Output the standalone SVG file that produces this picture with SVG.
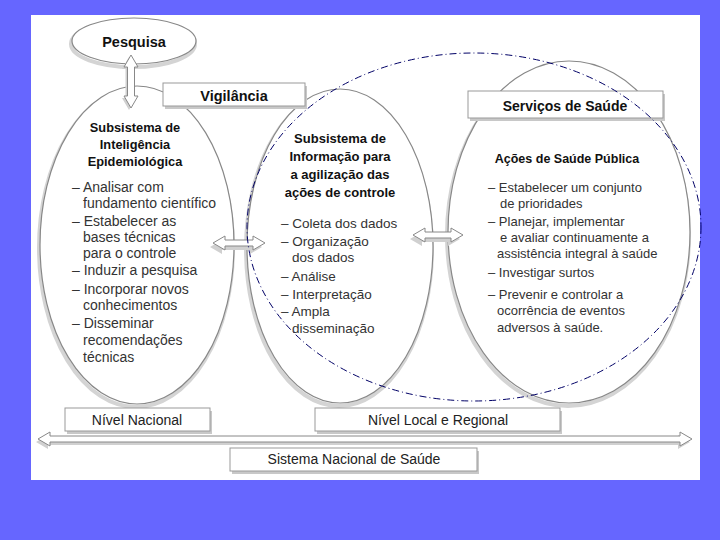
<svg xmlns="http://www.w3.org/2000/svg" width="720" height="540" viewBox="0 0 720 540">
<style>
.bold{font-family:"Liberation Sans",Arial,sans-serif;font-weight:bold;fill:#111;text-anchor:middle}
.reg{font-family:"Liberation Sans",Arial,sans-serif;fill:#333}
.ell{fill:#fff;stroke:#888;stroke-width:1.2}
.ellsh{fill:none;stroke:#d4d4d4;stroke-width:4}
.box{fill:#fff;stroke:#999;stroke-width:1}
.boxsh{fill:#c8c8c8}
.arr{fill:#fff;stroke:#888;stroke-width:1}
.arrsh{fill:#d0d0d0}
.lbl{font-family:"Liberation Sans",Arial,sans-serif;fill:#222;text-anchor:middle;font-size:14px}
</style>
<rect x="0" y="0" width="720" height="540" fill="#6666ff"/>
<rect x="31" y="15" width="669" height="465" fill="#fff"/>

<g id="pesquisa">
<ellipse cx="134" cy="42" rx="62" ry="23" class="ellsh" transform="translate(-1,2)"/>
<ellipse cx="134" cy="41" rx="62" ry="23" class="ell"/>
<text x="134" y="47" class="bold" font-size="14.5">Pesquisa</text>
</g>

<g id="subsistema-inteligencia">
<ellipse cx="137" cy="245" rx="97" ry="159" class="ellsh" transform="translate(-1,3)"/>
<ellipse cx="137" cy="245" rx="97" ry="159" class="ell"/>
<text x="135" y="132" class="bold" font-size="12.8">Subsistema de</text>
<text x="135" y="149" class="bold" font-size="12.8">Inteligência</text>
<text x="135" y="166" class="bold" font-size="12.8">Epidemiológica</text>
<g class="reg" font-size="14">
<text x="72" y="192">– Analisar com</text>
<text x="83" y="208">fundamento científico</text>
<text x="72" y="226">– Estabelecer as</text>
<text x="83" y="242">bases técnicas</text>
<text x="83" y="258">para o controle</text>
<text x="72" y="275">– Induzir a pesquisa</text>
<text x="72" y="294">– Incorporar novos</text>
<text x="83" y="310">conhecimentos</text>
<text x="72" y="328">– Disseminar</text>
<text x="83" y="345">recomendações</text>
<text x="83" y="362">técnicas</text>
</g>
</g>

<g id="subsistema-informacao">
<ellipse cx="340" cy="246" rx="93" ry="157" class="ellsh" transform="translate(-1,3)"/>
<ellipse cx="340" cy="246" rx="93" ry="157" class="ell"/>
<text x="340" y="143" class="bold" font-size="13">Subsistema de</text>
<text x="340" y="161" class="bold" font-size="13">Informação para</text>
<text x="340" y="179" class="bold" font-size="13">a agilização das</text>
<text x="340" y="197" class="bold" font-size="13">ações de controle</text>
<g class="reg" font-size="13.5">
<text x="281" y="228">– Coleta dos dados</text>
<text x="281" y="246">– Organização</text>
<text x="292" y="262">dos dados</text>
<text x="281" y="281">– Análise</text>
<text x="281" y="299">– Interpretação</text>
<text x="281" y="316">– Ampla</text>
<text x="292" y="333">disseminação</text>
</g>
</g>

<g id="acoes-saude-publica">
<ellipse cx="569" cy="232" rx="121" ry="171" class="ellsh" transform="translate(-1,3)"/>
<ellipse cx="569" cy="232" rx="121" ry="171" class="ell"/>
<text x="567" y="163" class="bold" font-size="12.5">Ações de Saúde Pública</text>
<g class="reg" font-size="13">
<text x="488" y="192">– Estabelecer um conjunto</text>
<text x="500" y="208">de prioridades</text>
<text x="488" y="226">– Planejar, implementar</text>
<text x="500" y="242">e avaliar continuamente a</text>
<text x="497" y="258">assistência integral à saúde</text>
<text x="488" y="277">– Investigar surtos</text>
<text x="488" y="299">– Prevenir e controlar a</text>
<text x="497" y="315">ocorrência de eventos</text>
<text x="497" y="332">adversos à saúde.</text>
</g>
</g>

<g id="vigilancia">
<rect x="165" y="86" width="142" height="23" class="boxsh"/>
<rect x="163" y="83" width="142" height="23" class="box"/>
<text x="234" y="101" class="bold" font-size="14.5">Vigilância</text>
</g>

<g id="servicos-saude">
<rect x="470" y="94" width="195" height="27" class="boxsh"/>
<rect x="468" y="91" width="195" height="27" class="box"/>
<text x="565" y="111" class="bold" font-size="14">Serviços de Saúde</text>
</g>

<g id="nivel-nacional">
<rect x="67" y="411" width="145" height="23" class="boxsh"/>
<rect x="65" y="408" width="145" height="23" class="box"/>
<text x="137" y="425" class="lbl">Nível Nacional</text>
</g>

<g id="nivel-local">
<rect x="317" y="411" width="245" height="23" class="boxsh"/>
<rect x="315" y="408" width="245" height="23" class="box"/>
<text x="438" y="425" class="lbl">Nível Local e Regional</text>
</g>

<g id="sistema-nacional">
<rect x="232" y="451" width="247" height="23" class="boxsh"/>
<rect x="230" y="448" width="247" height="23" class="box"/>
<text x="354" y="464" class="lbl" font-size="13.5">Sistema Nacional de Saúde</text>
</g>

<g id="connectors">
<!-- vertical Pesquisa <-> Subsistema -->
<polygon class="arrsh" transform="translate(-2,2)" points="131,55 138,67 134.5,67 134.5,96 138,96 131,108 124,96 127.5,96 127.5,67 124,67"/>
<polygon class="arr" points="131,55 138,67 134.5,67 134.5,96 138,96 131,108 124,96 127.5,96 127.5,67 124,67"/>
<!-- left horizontal -->
<polygon class="arrsh" transform="translate(-3,4)" points="213,243 225,236 225,240 253,240 253,236 265,243 253,250 253,246 225,246 225,250"/>
<polygon class="arr" points="213,243 225,236 225,240 253,240 253,236 265,243 253,250 253,246 225,246 225,250"/>
<!-- right horizontal -->
<polygon class="arrsh" transform="translate(-3,4)" points="413,235 425,228 425,232 451,232 451,228 463,235 451,242 451,238 425,238 425,242"/>
<polygon class="arr" points="413,235 425,228 425,232 451,232 451,228 463,235 451,242 451,238 425,238 425,242"/>
<!-- bottom long -->
<polygon class="arrsh" transform="translate(-2,3)" points="38,439 50,432 50,436 680,436 680,432 692,439 680,446 680,442 50,442 50,446"/>
<polygon class="arr" points="38,439 50,432 50,436 680,436 680,432 692,439 680,446 680,442 50,442 50,446"/>
<!-- dash-dot grouping ellipse -->
<ellipse cx="474" cy="227" rx="227" ry="174" fill="none" stroke="#000066" stroke-width="1" stroke-dasharray="7 3 1 3"/>
</g>
</svg>
